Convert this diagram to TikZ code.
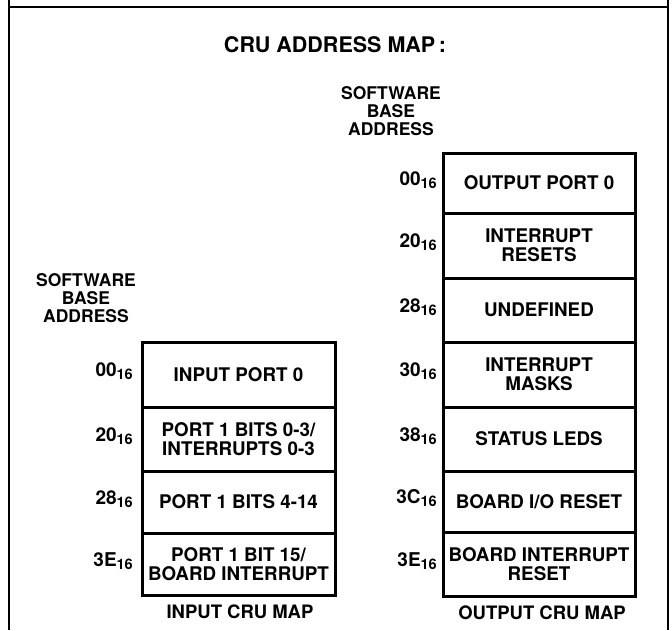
\documentclass[tikz,border=0pt]{standalone}
\usepackage{fontspec}
\setmainfont{TeX Gyre Heros}
\begin{document}
\begin{tikzpicture}[x=1pt,y=-1pt,
  every node/.style={font=\bfseries},
  lbl/.style={font=\fontsize{17.5}{18}\selectfont\bfseries, align=center, inner sep=0pt},
  mapcap/.style={font=\fontsize{18.5}{18}\selectfont\bfseries, align=center, inner sep=0pt},
  addr/.style={font=\fontsize{19}{19}\selectfont\bfseries, anchor=base east, inner sep=0pt},
  row/.style={draw, line width=3pt, minimum width=#1, inner sep=0pt, align=center,
              font=\fontsize{18.8}{19}\selectfont\bfseries},
  frameline/.style={line width=2.8pt}]
\newcommand{\hx}[1]{#1{\fontsize{14.5}{14.5}\selectfont\raisebox{-3pt}{16}}}
\useasboundingbox (0,0) rectangle (672,630);
% frame
\coordinate (ftl) at (9,7);
\coordinate (ftr) at (668,7);
\coordinate (fl0) at (9,0);
\coordinate (fl1) at (9,630);
\coordinate (fr0) at (668,0);
\coordinate (fr1) at (668,630);
\draw[frameline] (fl0) -- (fl1);
\draw[frameline] (fr0) -- (fr1);
\draw[frameline] (ftl) -- (ftr);
% title
\node[inner sep=0pt, font=\fontsize{21.5}{21}\selectfont\bfseries] (title) at (335,45) {CRU ADDRESS MAP\,:};
% software base address labels
\node[lbl] (sbaR) at (391,111) {SOFTWARE\\BASE\\ADDRESS};
\node[lbl] (sbaL) at (86,298) {SOFTWARE\\BASE\\ADDRESS};
% input map rows (x 142-335)
\node[row=193pt, minimum height=65pt] (i0) at (238.5,374.5) {INPUT PORT 0};
\node[row=193pt, minimum height=64pt] (i1) at (238.5,439) {PORT 1 BITS 0-3/\\INTERRUPTS 0-3};
\node[row=193pt, minimum height=62pt] (i2) at (238.5,502) {PORT 1 BITS 4-14};
\node[row=193pt, minimum height=62pt] (i3) at (238.5,564) {PORT 1 BIT 15/\\BOARD INTERRUPT};
\node[mapcap] (icap) at (240,612) {INPUT CRU MAP};
% input addresses
\node[addr] (a0) at (133,376.5) {\hx{00}};
\node[addr] (a1) at (133,441) {\hx{20}};
\node[addr] (a2) at (133,504) {\hx{28}};
\node[addr] (a3) at (133,566) {\hx{3E}};
% output map rows (x 443-635)
\node[row=192pt, minimum height=60pt] (o0) at (539,183) {OUTPUT PORT 0};
\node[row=192pt, minimum height=65pt] (o1) at (539,245.5) {INTERRUPT\\RESETS};
\node[row=192pt, minimum height=64pt] (o2) at (539,310) {UNDEFINED};
\node[row=192pt, minimum height=65pt] (o3) at (539,374.5) {INTERRUPT\\MASKS};
\node[row=192pt, minimum height=64pt] (o4) at (539,439) {STATUS LEDS};
\node[row=192pt, minimum height=61pt] (o5) at (539,501.5) {BOARD I/O RESET};
\node[row=192pt, minimum height=64pt] (o6) at (539,564) {BOARD INTERRUPT\\RESET};
\node[mapcap] (ocap) at (542,613) {OUTPUT CRU MAP};
% output addresses
\node[addr] (b0) at (437,185) {\hx{00}};
\node[addr] (b1) at (437,247.5) {\hx{20}};
\node[addr] (b2) at (437,312) {\hx{28}};
\node[addr] (b3) at (437,376.5) {\hx{30}};
\node[addr] (b4) at (437,441) {\hx{38}};
\node[addr] (b5) at (437,503.5) {\hx{3C}};
\node[addr] (b6) at (437,566) {\hx{3E}};
\end{tikzpicture}
\end{document}
